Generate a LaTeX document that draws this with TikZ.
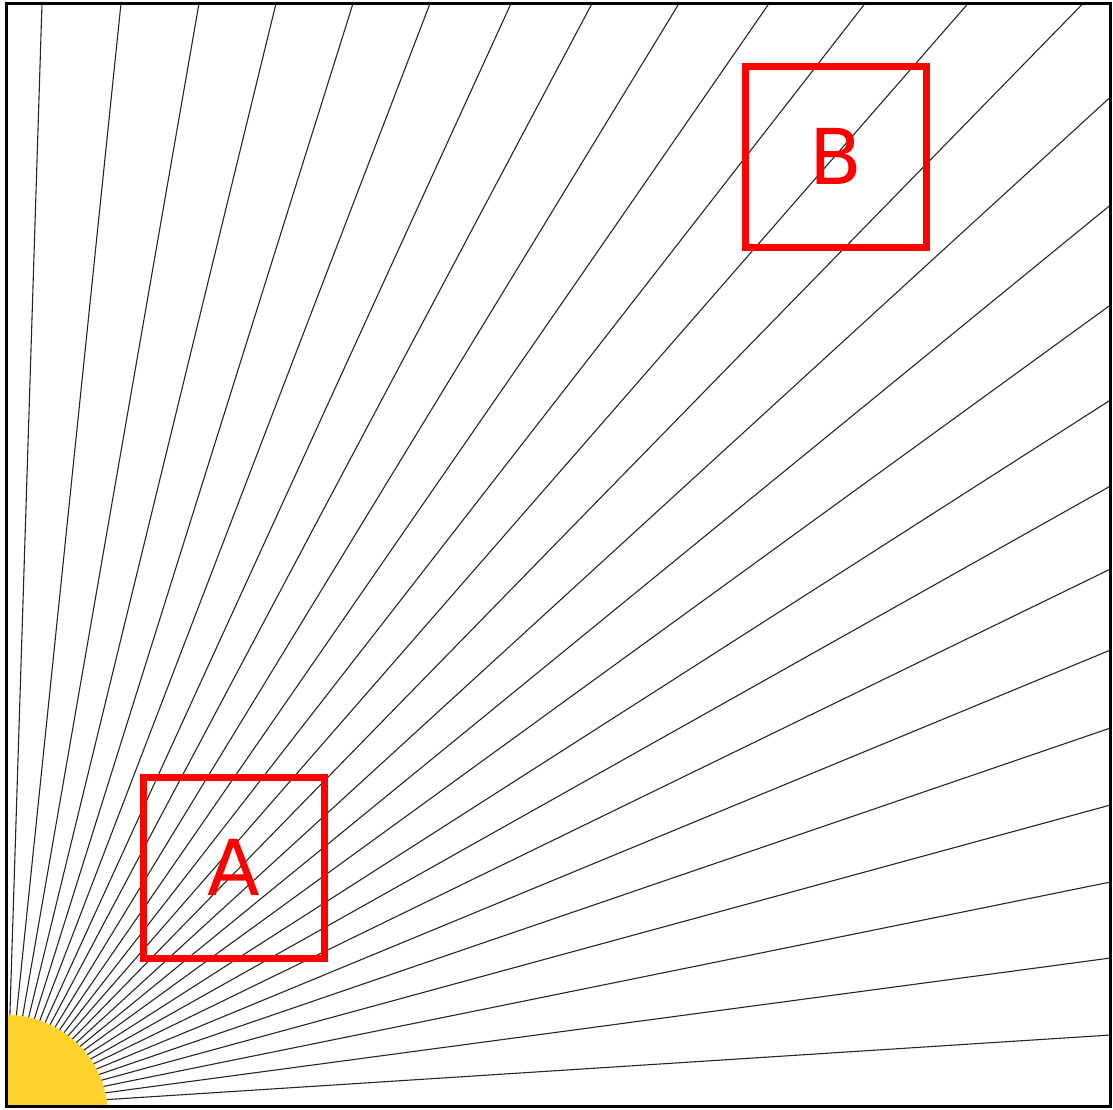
\documentclass[tikz,border=0pt]{standalone}
\usepackage{fontspec}
\newfontfamily\labelfont{DejaVu Sans}
\definecolor{sunyellow}{HTML}{FDD32B}
\definecolor{boxred}{HTML}{FF0000}
\tikzset{
  ray/.style={line width=1.1pt, draw=black!85},
  redbox/.style={draw=boxred, line width=7pt, minimum size=181pt, inner sep=0pt,
    text=boxred, font=\labelfont\fontsize{77}{77}\selectfont},
  frameline/.style={draw=black, line width=3.5pt}
}
\begin{document}
\begin{tikzpicture}[x=1pt, y=-1pt]
\useasboundingbox (0,0) rectangle (1113,1109);
\coordinate (O) at (7,1106);
\begin{scope}
\clip (6.5,3.5) rectangle (1110.5,1106.5);
\foreach \xx in {42,121,199,276,353,430,511,592,679,769,865,968,1083}
  \draw[ray] (O) -- (\xx,3.5);
\foreach \yy in {97,205,305,400,486,569,650,728,805,882,958,1035}
  \draw[ray] (O) -- (1110.5,\yy);
\fill[sunyellow] (7,1116) circle (101);
\end{scope}
\draw[frameline] (6.5,3.5) rectangle (1110.5,1106.5);
\node[redbox] (A) at (234,867.5) {A};
\node[redbox] (B) at (835.5,156.5) {B};
\end{tikzpicture}
\end{document}
